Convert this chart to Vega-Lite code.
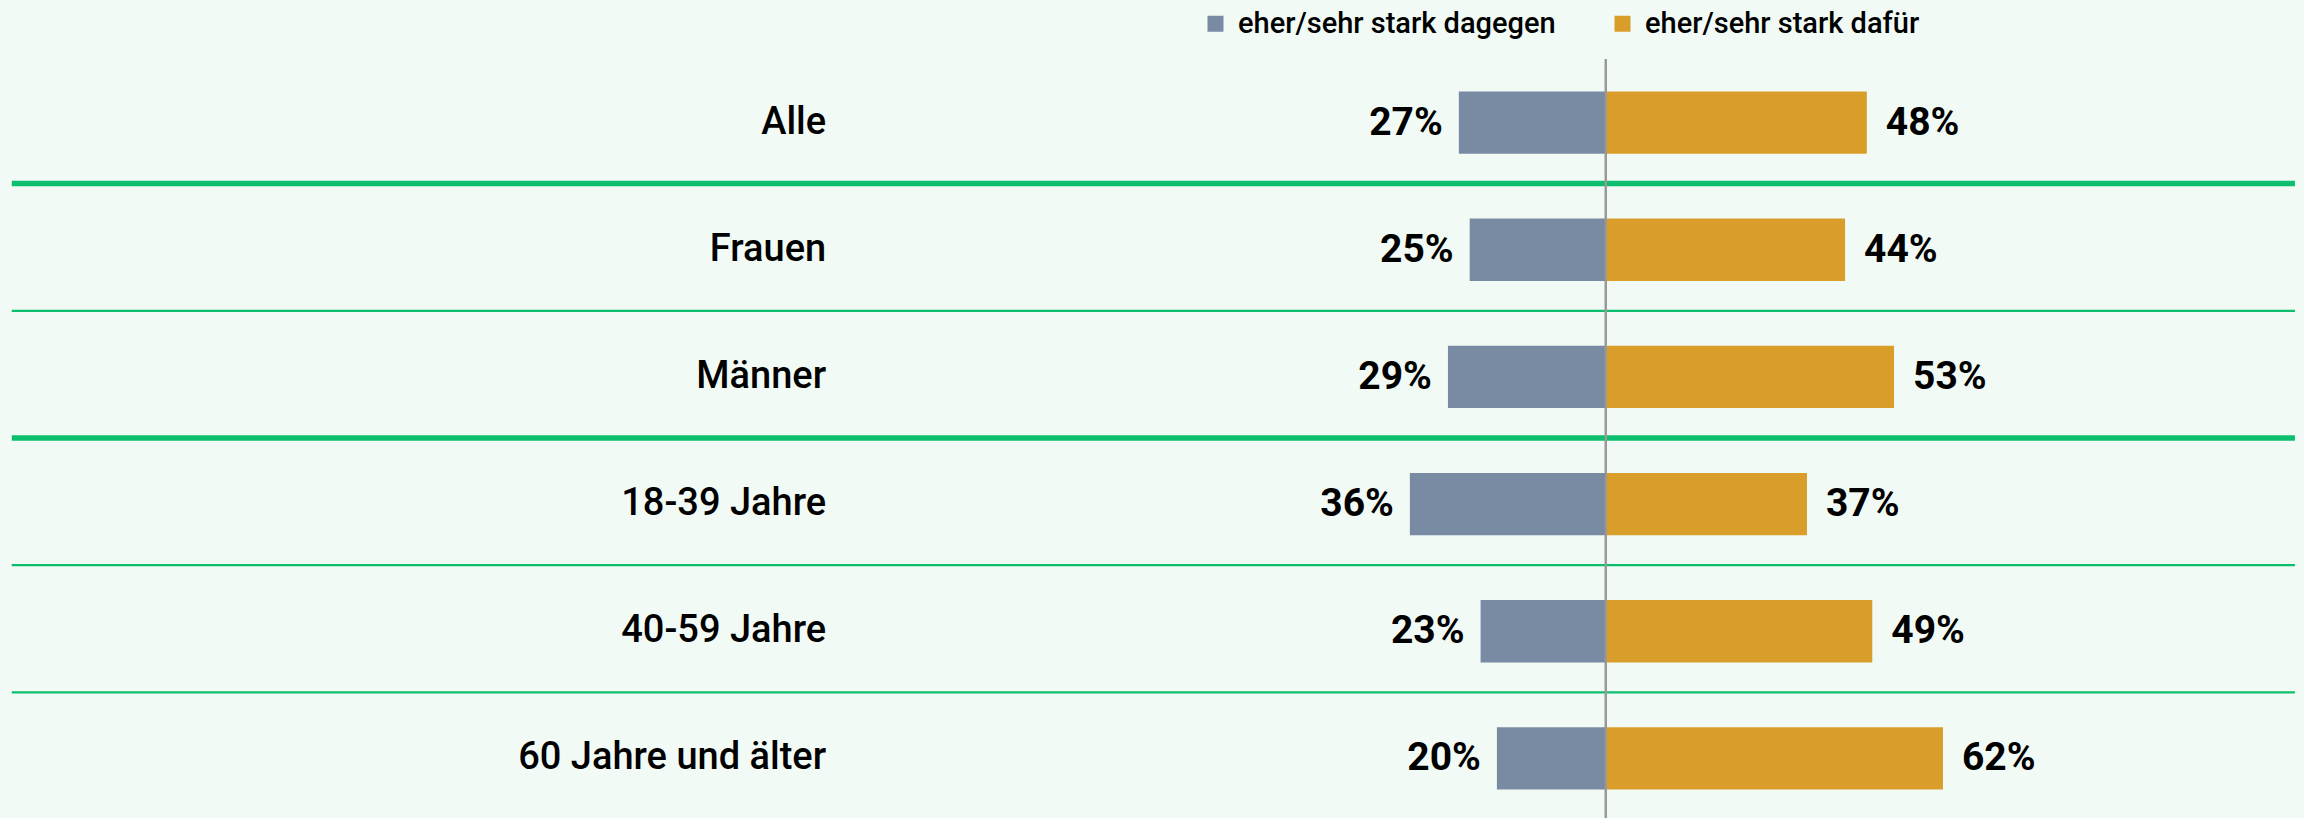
{
  "$schema": "https://vega.github.io/schema/vega-lite/v6.json",
  "width": 2304,
  "height": 763,
  "autosize": {"type": "none"},
  "padding": {"left": 0, "right": 0, "top": 59, "bottom": 0},
  "background": "#f1faf5",
  "config": {"view": {"stroke": null}, "font": "Roboto"},
  "datasets": {
    "werte": [
      {"gruppe": "Alle", "antwort": "eher/sehr stark dagegen", "wert": -27},
      {"gruppe": "Alle", "antwort": "eher/sehr stark dafür", "wert": 48},
      {"gruppe": "Frauen", "antwort": "eher/sehr stark dagegen", "wert": -25},
      {"gruppe": "Frauen", "antwort": "eher/sehr stark dafür", "wert": 44},
      {"gruppe": "Männer", "antwort": "eher/sehr stark dagegen", "wert": -29},
      {"gruppe": "Männer", "antwort": "eher/sehr stark dafür", "wert": 53},
      {"gruppe": "18-39 Jahre", "antwort": "eher/sehr stark dagegen", "wert": -36},
      {"gruppe": "18-39 Jahre", "antwort": "eher/sehr stark dafür", "wert": 37},
      {"gruppe": "40-59 Jahre", "antwort": "eher/sehr stark dagegen", "wert": -23},
      {"gruppe": "40-59 Jahre", "antwort": "eher/sehr stark dafür", "wert": 49},
      {"gruppe": "60 Jahre und älter", "antwort": "eher/sehr stark dagegen", "wert": -20},
      {"gruppe": "60 Jahre und älter", "antwort": "eher/sehr stark dafür", "wert": 62}
    ],
    "trenner": [
      {"nach_zeile": 1, "art": "Gruppengrenze"},
      {"nach_zeile": 2, "art": "innerhalb"},
      {"nach_zeile": 3, "art": "Gruppengrenze"},
      {"nach_zeile": 4, "art": "innerhalb"},
      {"nach_zeile": 5, "art": "innerhalb"}
    ]
  },
  "resolve": {"scale": {"y": "independent"}, "axis": {"y": "independent"}},
  "layer": [
    {
      "data": {"name": "trenner"},
      "transform": [{"filter": "datum.art === 'Gruppengrenze'"}],
      "mark": {"type": "rule", "color": "#0cbf6e", "strokeWidth": 5.5},
      "encoding": {
        "y": {"field": "nach_zeile", "type": "quantitative", "scale": {"domain": [0.02, 6.02], "reverse": true, "nice": false, "zero": false}, "axis": null},
        "x": {"datum": -293.0, "type": "quantitative", "scale": {"domain": [-295.165, 128.364], "nice": false, "zero": false}, "axis": null},
        "x2": {"datum": 126.7}
      }
    },
    {
      "data": {"name": "trenner"},
      "transform": [{"filter": "datum.art === 'innerhalb'"}],
      "mark": {"type": "rule", "color": "#0cbf6e", "strokeWidth": 2.2},
      "encoding": {
        "y": {"field": "nach_zeile", "type": "quantitative", "scale": {"domain": [0.02, 6.02], "reverse": true, "nice": false, "zero": false}, "axis": null},
        "x": {"datum": -293.0, "type": "quantitative", "axis": null},
        "x2": {"datum": 126.7}
      }
    },
    {
      "data": {"name": "werte"},
      "encoding": {
        "y": {
          "field": "gruppe",
          "type": "nominal",
          "scale": {
            "domain": ["Alle", "Frauen", "Männer", "18-39 Jahre", "40-59 Jahre", "60 Jahre und älter"],
            "paddingInner": 0,
            "paddingOuter": 0
          },
          "axis": null
        },
        "x": {
          "field": "wert",
          "type": "quantitative",
          "axis": null
        }
      },
      "layer": [
        {
          "mark": {"type": "bar", "height": {"band": 0.49}},
          "encoding": {
            "color": {
              "field": "antwort",
              "type": "nominal",
              "scale": {
                "domain": ["eher/sehr stark dagegen", "eher/sehr stark dafür"],
                "range": ["#798ba3", "#d99e2a"]
              },
              "legend": {
                "orient": "none",
                "legendX": 1201,
                "legendY": -50,
                "direction": "horizontal",
                "title": null,
                "symbolType": "square",
                "symbolSize": 256,
                "symbolStrokeWidth": 0,
                "symbolOpacity": 1,
                "labelFont": "Roboto",
                "labelFontSize": 29,
                "labelFontWeight": 500,
                "labelColor": "#000000",
                "labelOffset": 8,
                "columnPadding": 52,
                "labelLimit": 0,
                "padding": 0
              }
            }
          }
        },
        {
          "mark": {"type": "rule", "color": "#999999", "strokeWidth": 1.5},
          "encoding": {"x": {"datum": 0}, "y": null}
        },
        {
          "transform": [{"filter": "datum.wert > 0"}],
          "mark": {"type": "text", "align": "right", "baseline": "middle", "font": "Roboto", "fontSize": 38, "fontWeight": 500, "color": "#000000"},
          "encoding": {
            "x": {"datum": -143.3},
            "text": {"field": "gruppe"}
          }
        },
        {
          "transform": [
            {"filter": "datum.wert < 0"},
            {"calculate": "format(abs(datum.wert), 'd') + '%'", "as": "beschriftung"}
          ],
          "mark": {"type": "text", "align": "right", "baseline": "middle", "dx": -16, "font": "Roboto", "fontSize": 39, "fontWeight": "bold", "color": "#000000"},
          "encoding": {
            "text": {"field": "beschriftung"}
          }
        },
        {
          "transform": [
            {"filter": "datum.wert > 0"},
            {"calculate": "format(datum.wert, 'd') + '%'", "as": "beschriftung"}
          ],
          "mark": {"type": "text", "align": "left", "baseline": "middle", "dx": 19, "font": "Roboto", "fontSize": 39, "fontWeight": "bold", "color": "#000000"},
          "encoding": {
            "text": {"field": "beschriftung"}
          }
        }
      ]
    }
  ]
}
